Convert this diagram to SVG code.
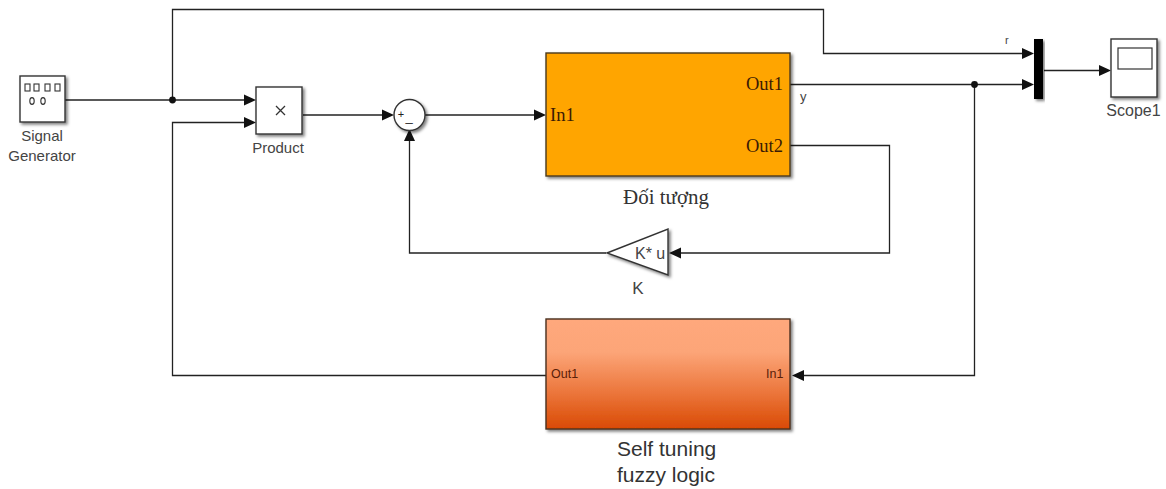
<svg xmlns="http://www.w3.org/2000/svg" width="1166" height="489" viewBox="0 0 1166 489">
<style>
.w{fill:none;stroke:#222;stroke-width:1.3}
.a{fill:#111}
.b{fill:#fff;stroke:#333;stroke-width:1.4;filter:url(#s)}
text{font-family:"Liberation Sans",Arial,sans-serif;fill:#444}
.l{font-size:15px;text-anchor:middle}
.t{font-family:"Liberation Serif","Times New Roman",serif;font-size:18.500px;fill:#3a1a05}
.p{font-size:12.500px;fill:#5a2008}
</style>
<defs>
<filter id="s" x="-15%" y="-15%" width="135%" height="135%"><feDropShadow dx="2" dy="2" stdDeviation="1.500" flood-color="#000" flood-opacity=".5"/></filter>
<linearGradient id="g" x1="0" y1="0" x2="0" y2="1"><stop offset="0" stop-color="#ffa87c"/><stop offset=".3" stop-color="#fca578"/><stop offset=".7" stop-color="#ea7236"/><stop offset="1" stop-color="#d94a04"/></linearGradient>
</defs>
<g id="connectors">
<path class="w" d="M65 100H246"/>
<path class="w" d="M172.500 100V9.500H823.500V53.500H1024"/>
<path class="w" d="M247 122.500H172.500V375.500H546"/>
<path class="w" d="M303 115H384"/>
<path class="w" d="M425 115H536"/>
<path class="w" d="M790 84.500H1024"/>
<path class="w" d="M974.500 84.500V375.500H802"/>
<path class="w" d="M790 145.500H889.500V253H680"/>
<path class="w" d="M606 253H409.500V139"/>
<path class="w" d="M1044 70.500H1101"/>
<circle class="a" cx="172.500" cy="100" r="3.400"/>
<circle class="a" cx="974.500" cy="84.500" r="3.400"/>
<path class="a" d="M256 100l-12-5.500v11z"/>
<path class="a" d="M256 122.500l-12-5.500v11z"/>
<path class="a" d="M394 115l-12-5.500v11z"/>
<path class="a" d="M546 115l-12-5.500v11z"/>
<path class="a" d="M1034 53.500l-12-5.500v11z"/>
<path class="a" d="M1034 84.500l-12-5.500v11z"/>
<path class="a" d="M1111 70.500l-12-5.500v11z"/>
<path class="a" d="M669 253l12-5.500v11z"/>
<path class="a" d="M792 375.500l12-5.500v11z"/>
<path class="a" d="M409.500 129l-5.500 12h11z"/>
</g>
<g id="signal-generator">
<rect class="b" x="20" y="76" width="45" height="46"/>
<g fill="none" stroke="#333" stroke-width="1.100"><rect x="25" y="84" width="5" height="7"/><rect x="34" y="84" width="5" height="7"/><rect x="45" y="84" width="5" height="7"/><rect x="55" y="84" width="5" height="7"/><ellipse cx="32" cy="101" rx="2.200" ry="3.400"/><ellipse cx="43" cy="101" rx="2.200" ry="3.400"/></g>
<text class="l" x="42" y="141">Signal</text><text class="l" x="42" y="161">Generator</text>
</g>
<g id="product">
<rect class="b" x="256" y="87" width="46" height="47"/>
<path d="M276 106l9 9m0-9l-9 9" stroke="#333" stroke-width="1.300"/>
<text class="l" x="278" y="153">Product</text>
</g>
<g id="sum">
<circle class="b" cx="409.500" cy="115" r="15.500"/>
<text x="401" y="118" font-size="11" text-anchor="middle" style="fill:#222">+</text><text x="409" y="121" font-size="13" text-anchor="middle" style="fill:#222">_</text>
</g>
<g id="doi-tuong">
<rect x="546" y="53" width="244" height="123" fill="#ffa500" stroke="#4a3a20" stroke-width="1.400" filter="url(#s)"/>
<text class="t" x="550" y="121">In1</text>
<text class="t" x="746" y="90">Out1</text>
<text class="t" x="746" y="152">Out2</text>
<text x="623" y="204" style="font-family:'Liberation Serif',serif;font-size:21px;fill:#333">Đối tượng</text>
<text x="800" y="101" font-size="13">y</text>
</g>
<g id="gain-k">
<path class="b" d="M607 253L668 229V275Z"/>
<text x="635" y="259" font-size="16">K* u</text>
<text class="l" x="638" y="294" style="font-size:17px">K</text>
</g>
<g id="mux">
<rect x="1034" y="39" width="9" height="60" fill="#000" filter="url(#s)"/>
<text x="1005" y="44" font-size="11">r</text>
</g>
<g id="scope1">
<rect class="b" x="1111" y="39" width="46" height="58"/>
<rect x="1118" y="48" width="34" height="21" fill="#fff" stroke="#333" stroke-width="1.200"/>
<text class="l" x="1133.500" y="116" style="font-size:16px">Scope1</text>
</g>
<g id="self-tuning">
<rect x="546" y="319" width="244" height="110" fill="url(#g)" stroke="#4a3020" stroke-width="1.400" filter="url(#s)"/>
<text class="p" x="551" y="378">Out1</text>
<text class="p" x="766" y="378">In1</text>
<text x="617" y="456" style="font-size:21px;fill:#333">Self tuning</text>
<text x="617" y="482" style="font-size:21px;fill:#333">fuzzy logic</text>
</g>
</svg>
